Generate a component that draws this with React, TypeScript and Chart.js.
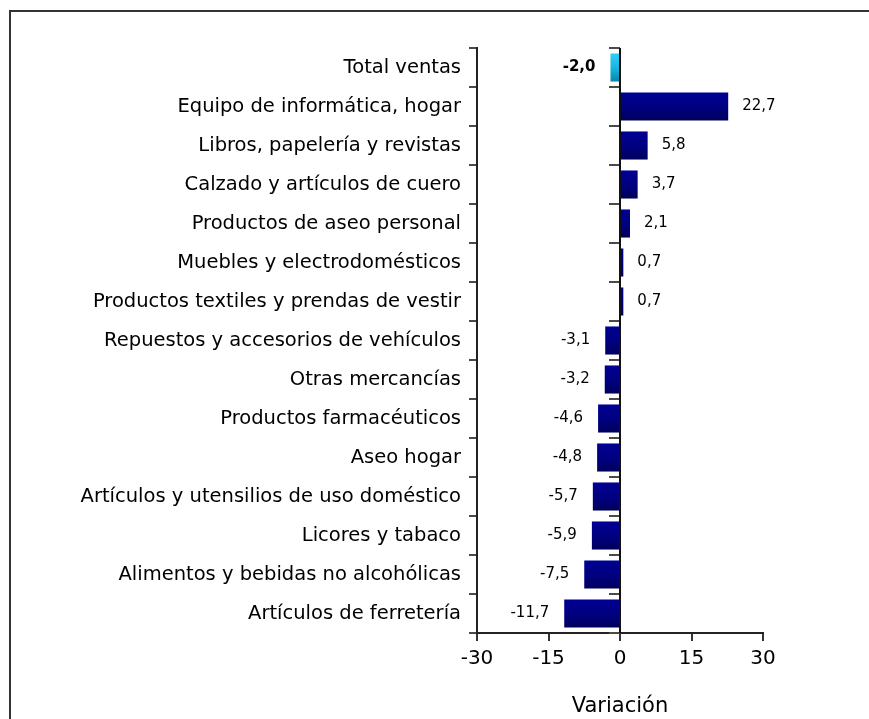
import { useEffect, useRef } from "react";
import { Chart, registerables } from "chart.js";

Chart.register(...registerables);

const categories: string[] = [
  "Total ventas",
  "Equipo de informática, hogar",
  "Libros, papelería y revistas",
  "Calzado y artículos de cuero",
  "Productos de aseo personal",
  "Muebles y electrodomésticos",
  "Productos textiles y prendas de vestir",
  "Repuestos y accesorios de vehículos",
  "Otras mercancías",
  "Productos farmacéuticos",
  "Aseo hogar",
  "Artículos y utensilios de uso doméstico",
  "Licores y tabaco",
  "Alimentos y bebidas no alcohólicas",
  "Artículos de ferretería",
];

const values: number[] = [-2.0, 22.7, 5.8, 3.7, 2.1, 0.7, 0.7, -3.1, -3.2, -4.6, -4.8, -5.7, -5.9, -7.5, -11.7];

const xTicks: number[] = [-30, -15, 0, 15, 30];
const highlightIndex = 0;
const axisTitle = "Variación";

const FONT = "'DejaVu Sans', 'Liberation Sans', sans-serif";

export default function App() {
  const ref = useRef<HTMLCanvasElement>(null);

  useEffect(() => {
    const canvas = ref.current;
    if (!canvas) return;

    const barColor = (c: any) => {
      const chart = c.chart;
      const idx = c.dataIndex;
      const hi = idx === highlightIndex;
      const ys = chart.scales && chart.scales.y;
      if (!ys || c.type !== "data" || !isFinite(ys.height)) return hi ? "#18b8e0" : "#000080";
      const yc = ys.getPixelForValue(idx);
      const half = (ys.height / categories.length) * 0.36;
      const g = chart.ctx.createLinearGradient(0, yc - half, 0, yc + half);
      if (hi) {
        g.addColorStop(0, "#30d0f8");
        g.addColorStop(0.55, "#14b4dc");
        g.addColorStop(1, "#0a86a6");
      } else {
        g.addColorStop(0, "#000094");
        g.addColorStop(0.55, "#000080");
        g.addColorStop(1, "#00005c");
      }
      return g;
    };

    const zeroLine = {
      id: "zeroLine",
      afterDatasetsDraw(chart: any) {
        const { ctx, scales } = chart;
        const x = scales.x;
        const y = scales.y;
        const x0 = Math.round(x.getPixelForValue(0));
        ctx.save();
        ctx.strokeStyle = "#4a4a4a";
        ctx.lineWidth = 2;
        for (let i = 0; i <= categories.length; i++) {
          const yy = Math.round(y.getPixelForValue(i - 0.5));
          ctx.beginPath();
          ctx.moveTo(x0 - 11, yy);
          ctx.lineTo(x0, yy);
          ctx.stroke();
        }
        ctx.strokeStyle = "#111";
        ctx.beginPath();
        ctx.moveTo(x0, y.top);
        ctx.lineTo(x0, y.bottom);
        ctx.stroke();
        ctx.restore();
      },
    };

    const valueLabels = {
      id: "valueLabels",
      afterDatasetsDraw(chart: any) {
        const meta = chart.getDatasetMeta(0);
        const ctx = chart.ctx;
        ctx.save();
        ctx.fillStyle = "#000";
        ctx.textBaseline = "middle";
        meta.data.forEach((el: any, i: number) => {
          const v = values[i];
          const text = v.toFixed(1).replace(".", ",");
          ctx.font = (i === highlightIndex ? "bold " : "") + "15px " + FONT;
          if (v >= 0) {
            ctx.textAlign = "left";
            ctx.fillText(text, el.x + 14, el.y);
          } else {
            ctx.textAlign = "right";
            ctx.fillText(text, el.x - 15, el.y);
          }
        });
        ctx.restore();
      },
    };

    const chart = new Chart(canvas, {
      type: "bar",
      data: {
        labels: categories,
        datasets: [
          {
            data: values,
            backgroundColor: barColor,
            borderWidth: 0,
            barPercentage: 0.72,
            categoryPercentage: 1,
          },
        ],
      },
      options: {
        indexAxis: "y",
        responsive: false,
        animation: false,
        events: [],
        layout: { padding: { left: 0, right: 106, top: 48, bottom: 0 } },
        plugins: {
          legend: { display: false },
          tooltip: { enabled: false },
          title: { display: false },
        },
        scales: {
          x: {
            type: "linear",
            min: -30,
            max: 30,
            afterBuildTicks: (s: any) => {
              s.ticks = xTicks.map((v) => ({ value: v }));
            },
            afterFit: (s: any) => {
              s.height = 86;
            },
            ticks: {
              color: "#000",
              font: { family: FONT, size: 20 },
              padding: 6,
              maxRotation: 0,
              callback: (v: any) => String(v),
            },
            grid: {
              drawOnChartArea: false,
              drawTicks: true,
              tickLength: 8,
              color: "#333",
              lineWidth: 2,
            },
            border: { display: true, color: "#222", width: 2 },
            title: {
              display: true,
              text: axisTitle,
              color: "#000",
              font: { family: FONT, size: 21 },
              padding: { top: 0, bottom: 0 },
            },
          },
          y: {
            type: "category",
            afterFit: (s: any) => {
              s.width = 477;
            },
            ticks: {
              color: "#000",
              font: { family: FONT, size: 19.5 },
              padding: 8,
              autoSkip: false,
            },
            grid: {
              offset: true,
              drawOnChartArea: false,
              drawTicks: true,
              tickLength: 8,
              color: "#4a4a4a",
              lineWidth: 2,
            },
            border: { display: true, color: "#222", width: 2 },
          },
        },
      },
      plugins: [zeroLine, valueLabels],
    } as any);

    return () => {
      chart.destroy();
    };
  }, []);

  return (
    <div style={{ position: "absolute", left: 0, top: 0, width: 869, height: 719, overflow: "hidden" }}>
      <div
        style={{
          position: "absolute",
          left: 9,
          top: 10,
          width: 860,
          height: 709,
          boxSizing: "border-box",
          borderTop: "2px solid #333",
          borderLeft: "2px solid #333",
        }}
      />
      <canvas
        ref={ref}
        width={869}
        height={719}
        style={{ position: "absolute", left: 0, top: 0, width: 869, height: 719 }}
      />
    </div>
  );
}
